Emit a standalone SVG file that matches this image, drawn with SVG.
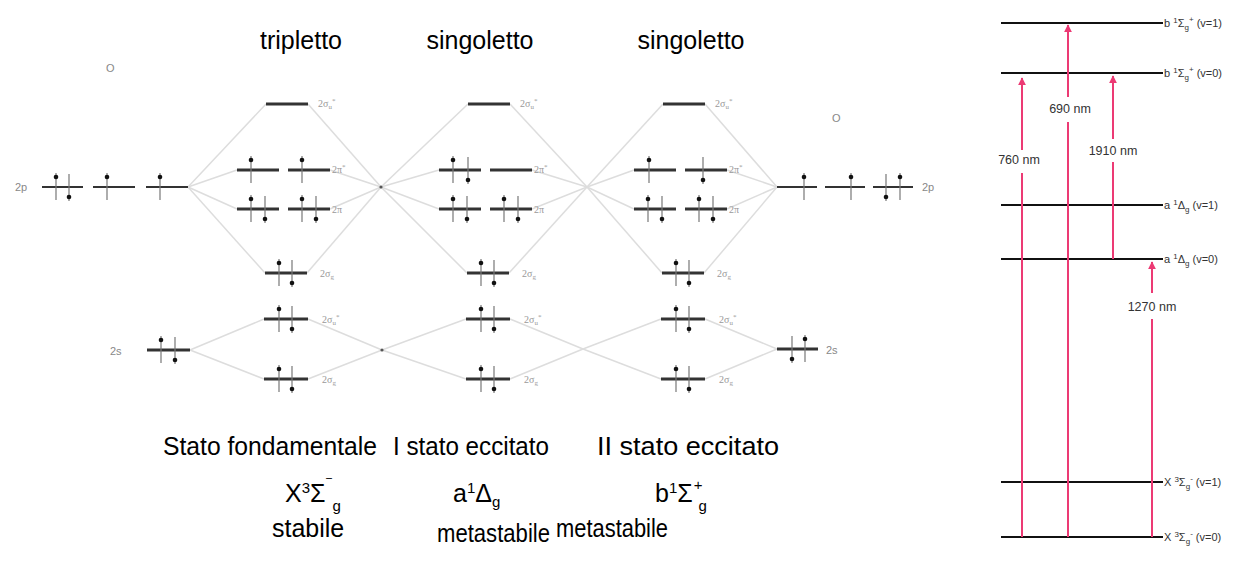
<svg xmlns="http://www.w3.org/2000/svg" xmlns:xlink="http://www.w3.org/1999/xlink" width="1244" height="561" viewBox="0 0 1244 561">
<style>
.lvl{stroke:#333;stroke-width:3;fill:none}
.ao{stroke:#333;stroke-width:2;fill:none}
.ev{stroke:#777;stroke-width:1.2}
.dot{fill:#111}
.con line{stroke:#ddd;stroke-width:1.5}
.sm{font-family:"Liberation Serif",serif;font-size:10px;fill:#999}
.at{font-family:"Liberation Sans",sans-serif;font-size:11px;fill:#888}
.big{font-family:"Liberation Sans",sans-serif;font-size:25px;fill:#000}
.el{stroke:#111;stroke-width:2.2}
.elab{font-family:"Liberation Sans",sans-serif;font-size:11px;fill:#333}
.wl{font-family:"Liberation Sans",sans-serif;font-size:12.5px;fill:#333}
.arr{stroke:#ec3a74;stroke-width:2;fill:none}
</style>
<defs>
<g id="eu"><line x1="0" y1="-14" x2="0" y2="13" class="ev"/><circle cx="0" cy="-10" r="2.3" class="dot"/></g>
<g id="ed"><line x1="0" y1="-13" x2="0" y2="14" class="ev"/><circle cx="0" cy="10" r="2.3" class="dot"/></g>
<marker id="ah" viewBox="0 0 10 10" refX="9" refY="5" markerWidth="4" markerHeight="4" orient="auto"><path d="M0,0 L10,5 L0,10 z" fill="#ec3a74"/></marker>
</defs>
<rect width="1244" height="561" fill="#fff"/>

<g class="con" id="connectors">
<line x1="188" y1="187" x2="266" y2="104"/><line x1="188" y1="187" x2="237" y2="170"/><line x1="188" y1="187" x2="237" y2="209"/><line x1="188" y1="187" x2="265" y2="273"/>
<line x1="308" y1="104" x2="381" y2="187"/><line x1="330" y1="170" x2="381" y2="187"/><line x1="330" y1="209" x2="381" y2="187"/><line x1="307" y1="273" x2="381" y2="187"/>
<line x1="190" y1="350" x2="264" y2="319"/><line x1="190" y1="350" x2="264" y2="379"/><line x1="308" y1="319" x2="382" y2="350"/><line x1="308" y1="379" x2="382" y2="350"/>
<line x1="381" y1="187" x2="468" y2="104"/><line x1="381" y1="187" x2="439" y2="170"/><line x1="381" y1="187" x2="439" y2="209"/><line x1="381" y1="187" x2="467" y2="273"/>
<line x1="510" y1="104" x2="587" y2="187"/><line x1="532" y1="170" x2="587" y2="187"/><line x1="532" y1="209" x2="587" y2="187"/><line x1="509" y1="273" x2="587" y2="187"/>
<line x1="382" y1="350" x2="466" y2="319"/><line x1="382" y1="350" x2="466" y2="379"/><line x1="510" y1="319" x2="583" y2="349"/><line x1="510" y1="379" x2="583" y2="349"/>
<line x1="587" y1="187" x2="663" y2="104"/><line x1="587" y1="187" x2="634" y2="170"/><line x1="587" y1="187" x2="634" y2="209"/><line x1="587" y1="187" x2="662" y2="273"/>
<line x1="705" y1="104" x2="777" y2="187"/><line x1="727" y1="170" x2="777" y2="187"/><line x1="727" y1="209" x2="777" y2="187"/><line x1="704" y1="273" x2="777" y2="187"/>
<line x1="583" y1="349" x2="661" y2="319"/><line x1="583" y1="349" x2="661" y2="379"/><line x1="705" y1="319" x2="777" y2="349"/><line x1="705" y1="379" x2="777" y2="349"/>
</g>

<g id="atom-left">
<text x="106" y="72" class="at">O</text>
<text x="15" y="191" class="at">2p</text>
<line x1="42" y1="187" x2="83" y2="187" class="ao"/><line x1="93" y1="187" x2="135" y2="187" class="ao"/><line x1="146" y1="187" x2="188" y2="187" class="ao"/>
<use xlink:href="#eu" x="56" y="187"/><use xlink:href="#ed" x="69" y="187"/><use xlink:href="#eu" x="107" y="187"/><use xlink:href="#eu" x="160" y="187"/>
<text x="110" y="355" class="at">2s</text>
<line x1="147" y1="350" x2="190" y2="350" class="lvl"/>
<use xlink:href="#eu" x="161" y="350"/><use xlink:href="#ed" x="175" y="350"/>
</g>

<g id="mo-triplet">
<line x1="266" y1="104" x2="308" y2="104" class="lvl"/>
<line x1="237" y1="170" x2="279" y2="170" class="lvl"/><line x1="288" y1="170" x2="330" y2="170" class="lvl"/>
<line x1="237" y1="209" x2="279" y2="209" class="lvl"/><line x1="288" y1="209" x2="330" y2="209" class="lvl"/>
<line x1="265" y1="273" x2="307" y2="273" class="lvl"/>
<line x1="264" y1="319" x2="308" y2="319" class="lvl"/>
<line x1="264" y1="379" x2="308" y2="379" class="lvl"/>
<use xlink:href="#eu" x="251" y="170"/><use xlink:href="#eu" x="302" y="170"/>
<use xlink:href="#eu" x="251" y="209"/><use xlink:href="#ed" x="265" y="209"/><use xlink:href="#eu" x="302" y="209"/><use xlink:href="#ed" x="316" y="209"/>
<use xlink:href="#eu" x="279" y="273"/><use xlink:href="#ed" x="292" y="273"/>
<use xlink:href="#eu" x="279" y="319"/><use xlink:href="#ed" x="292" y="319"/>
<use xlink:href="#eu" x="279" y="379"/><use xlink:href="#ed" x="292" y="379"/>
<text x="318" y="107" class="sm">2σ<tspan font-size="7" dy="2">u</tspan><tspan font-size="7" dy="-6">*</tspan></text>
<text x="332" y="173" class="sm">2π<tspan font-size="7" dy="-4">*</tspan></text>
<text x="332" y="213" class="sm">2π</text>
<text x="320" y="277" class="sm">2σ<tspan font-size="7" dy="2">g</tspan></text>
<text x="322" y="323" class="sm">2σ<tspan font-size="7" dy="2">u</tspan><tspan font-size="7" dy="-6">*</tspan></text>
<text x="322" y="383" class="sm">2σ<tspan font-size="7" dy="2">g</tspan></text>
<circle cx="381" cy="187" r="1.6" fill="#555"/>
<circle cx="382" cy="350" r="1.6" fill="#555"/>
</g>

<g id="mo-singlet-delta" transform="translate(202,0)">
<line x1="266" y1="104" x2="308" y2="104" class="lvl"/>
<line x1="237" y1="170" x2="279" y2="170" class="lvl"/><line x1="288" y1="170" x2="330" y2="170" class="lvl"/>
<line x1="237" y1="209" x2="279" y2="209" class="lvl"/><line x1="288" y1="209" x2="330" y2="209" class="lvl"/>
<line x1="265" y1="273" x2="307" y2="273" class="lvl"/>
<line x1="264" y1="319" x2="308" y2="319" class="lvl"/>
<line x1="264" y1="379" x2="308" y2="379" class="lvl"/>
<use xlink:href="#eu" x="251" y="170"/><use xlink:href="#ed" x="266" y="170"/>
<use xlink:href="#eu" x="251" y="209"/><use xlink:href="#ed" x="265" y="209"/><use xlink:href="#eu" x="302" y="209"/><use xlink:href="#ed" x="316" y="209"/>
<use xlink:href="#eu" x="279" y="273"/><use xlink:href="#ed" x="292" y="273"/>
<use xlink:href="#eu" x="279" y="319"/><use xlink:href="#ed" x="292" y="319"/>
<use xlink:href="#eu" x="279" y="379"/><use xlink:href="#ed" x="292" y="379"/>
<text x="318" y="107" class="sm">2σ<tspan font-size="7" dy="2">u</tspan><tspan font-size="7" dy="-6">*</tspan></text>
<text x="332" y="173" class="sm">2π<tspan font-size="7" dy="-4">*</tspan></text>
<text x="332" y="213" class="sm">2π</text>
<text x="320" y="277" class="sm">2σ<tspan font-size="7" dy="2">g</tspan></text>
<text x="322" y="323" class="sm">2σ<tspan font-size="7" dy="2">u</tspan><tspan font-size="7" dy="-6">*</tspan></text>
<text x="322" y="383" class="sm">2σ<tspan font-size="7" dy="2">g</tspan></text>
</g>

<g id="mo-singlet-sigma" transform="translate(397,0)">
<line x1="266" y1="104" x2="308" y2="104" class="lvl"/>
<line x1="237" y1="170" x2="279" y2="170" class="lvl"/><line x1="288" y1="170" x2="330" y2="170" class="lvl"/>
<line x1="237" y1="209" x2="279" y2="209" class="lvl"/><line x1="288" y1="209" x2="330" y2="209" class="lvl"/>
<line x1="265" y1="273" x2="307" y2="273" class="lvl"/>
<line x1="264" y1="319" x2="308" y2="319" class="lvl"/>
<line x1="264" y1="379" x2="308" y2="379" class="lvl"/>
<use xlink:href="#eu" x="252" y="170"/><use xlink:href="#ed" x="306" y="170"/>
<use xlink:href="#eu" x="251" y="209"/><use xlink:href="#ed" x="265" y="209"/><use xlink:href="#eu" x="302" y="209"/><use xlink:href="#ed" x="316" y="209"/>
<use xlink:href="#eu" x="279" y="273"/><use xlink:href="#ed" x="292" y="273"/>
<use xlink:href="#eu" x="279" y="319"/><use xlink:href="#ed" x="292" y="319"/>
<use xlink:href="#eu" x="279" y="379"/><use xlink:href="#ed" x="292" y="379"/>
<text x="318" y="107" class="sm">2σ<tspan font-size="7" dy="2">u</tspan><tspan font-size="7" dy="-6">*</tspan></text>
<text x="332" y="173" class="sm">2π<tspan font-size="7" dy="-4">*</tspan></text>
<text x="332" y="213" class="sm">2π</text>
<text x="320" y="277" class="sm">2σ<tspan font-size="7" dy="2">g</tspan></text>
<text x="322" y="323" class="sm">2σ<tspan font-size="7" dy="2">u</tspan><tspan font-size="7" dy="-6">*</tspan></text>
<text x="322" y="383" class="sm">2σ<tspan font-size="7" dy="2">g</tspan></text>
</g>

<g id="atom-right">
<text x="832" y="122" class="at">O</text>
<line x1="777" y1="187" x2="817" y2="187" class="ao"/><line x1="825" y1="187" x2="865" y2="187" class="ao"/><line x1="873" y1="187" x2="913" y2="187" class="ao"/>
<use xlink:href="#eu" x="804" y="187"/><use xlink:href="#eu" x="851" y="187"/><use xlink:href="#ed" x="886" y="187"/><use xlink:href="#eu" x="900" y="187"/>
<text x="922" y="191" class="at">2p</text>
<line x1="777" y1="349" x2="818" y2="349" class="lvl"/>
<use xlink:href="#ed" x="792" y="349"/><use xlink:href="#eu" x="805" y="349"/>
<text x="826" y="354" class="at">2s</text>
</g>

<g id="state-labels">
<text x="301" y="49" class="big" text-anchor="middle" font-size="27">tripletto</text>
<text x="480" y="49" class="big" text-anchor="middle" font-size="27">singoletto</text>
<text x="691" y="49" class="big" text-anchor="middle" font-size="27">singoletto</text>
<text x="163" y="455" class="big" textLength="214" lengthAdjust="spacingAndGlyphs">Stato fondamentale</text>
<text x="393" y="455" class="big" textLength="156" lengthAdjust="spacingAndGlyphs">I stato eccitato</text>
<text x="597" y="455" class="big" textLength="182" lengthAdjust="spacingAndGlyphs">II stato eccitato</text>
<text x="285" y="502" class="big">X<tspan font-size="15" dy="-9">3</tspan><tspan dy="9">Σ</tspan><tspan font-size="15" dy="-12" dx="1">‾</tspan><tspan font-size="15" dy="21" dx="1">g</tspan></text>
<text x="453" y="502" class="big">a<tspan font-size="15" dy="-9">1</tspan><tspan dy="9">Δ</tspan><tspan font-size="15" dy="5">g</tspan></text>
<text x="655" y="502" class="big">b<tspan font-size="15" dy="-9">1</tspan><tspan dy="9">Σ</tspan><tspan font-size="15" dy="-12" dx="1">+</tspan><tspan font-size="15" dy="21" dx="-4">g</tspan></text>
<text x="272" y="537" class="big">stabile</text>
<text x="437" y="542" class="big" textLength="113" lengthAdjust="spacingAndGlyphs">metastabile</text>
<text x="556" y="537" class="big" textLength="112" lengthAdjust="spacingAndGlyphs">metastabile</text>
</g>

<g id="energy-levels">
<line x1="1001" y1="23" x2="1163" y2="23" class="el"/>
<line x1="1001" y1="73" x2="1163" y2="73" class="el"/>
<line x1="1001" y1="205" x2="1163" y2="205" class="el"/>
<line x1="1001" y1="259" x2="1163" y2="259" class="el"/>
<line x1="1001" y1="482" x2="1163" y2="482" class="el"/>
<line x1="1001" y1="537" x2="1163" y2="537" class="el"/>
<text x="1164" y="27" class="elab">b <tspan font-size="8" dy="-4">1</tspan><tspan dy="4">Σ</tspan><tspan font-size="8" dy="3">g</tspan><tspan font-size="8" dy="-8">+</tspan><tspan dy="5"> (v=1)</tspan></text>
<text x="1164" y="77" class="elab">b <tspan font-size="8" dy="-4">1</tspan><tspan dy="4">Σ</tspan><tspan font-size="8" dy="3">g</tspan><tspan font-size="8" dy="-8">+</tspan><tspan dy="5"> (v=0)</tspan></text>
<text x="1164" y="209" class="elab">a <tspan font-size="8" dy="-4">1</tspan><tspan dy="4">Δ</tspan><tspan font-size="8" dy="3">g</tspan><tspan dy="-3"> (v=1)</tspan></text>
<text x="1164" y="263" class="elab">a <tspan font-size="8" dy="-4">1</tspan><tspan dy="4">Δ</tspan><tspan font-size="8" dy="3">g</tspan><tspan dy="-3"> (v=0)</tspan></text>
<text x="1164" y="486" class="elab">X <tspan font-size="8" dy="-4">3</tspan><tspan dy="4">Σ</tspan><tspan font-size="8" dy="3">g</tspan><tspan font-size="8" dy="-8">-</tspan><tspan dy="5"> (v=1)</tspan></text>
<text x="1164" y="541" class="elab">X <tspan font-size="8" dy="-4">3</tspan><tspan dy="4">Σ</tspan><tspan font-size="8" dy="3">g</tspan><tspan font-size="8" dy="-8">-</tspan><tspan dy="5"> (v=0)</tspan></text>
</g>

<g id="transitions">
<line x1="1022" y1="537" x2="1022" y2="173" class="arr"/>
<line x1="1022" y1="150" x2="1022" y2="78" class="arr" marker-end="url(#ah)"/>
<text x="1019" y="164" class="wl" text-anchor="middle">760 nm</text>
<line x1="1068" y1="537" x2="1068" y2="122" class="arr"/>
<line x1="1068" y1="97" x2="1068" y2="25" class="arr" marker-end="url(#ah)"/>
<text x="1070" y="113" class="wl" text-anchor="middle">690 nm</text>
<line x1="1113" y1="259" x2="1113" y2="162" class="arr"/>
<line x1="1113" y1="139" x2="1113" y2="76" class="arr" marker-end="url(#ah)"/>
<text x="1113" y="155" class="wl" text-anchor="middle">1910 nm</text>
<line x1="1152" y1="537" x2="1152" y2="319" class="arr"/>
<line x1="1152" y1="293" x2="1152" y2="262" class="arr" marker-end="url(#ah)"/>
<text x="1152" y="311" class="wl" text-anchor="middle">1270 nm</text>
</g>
</svg>
